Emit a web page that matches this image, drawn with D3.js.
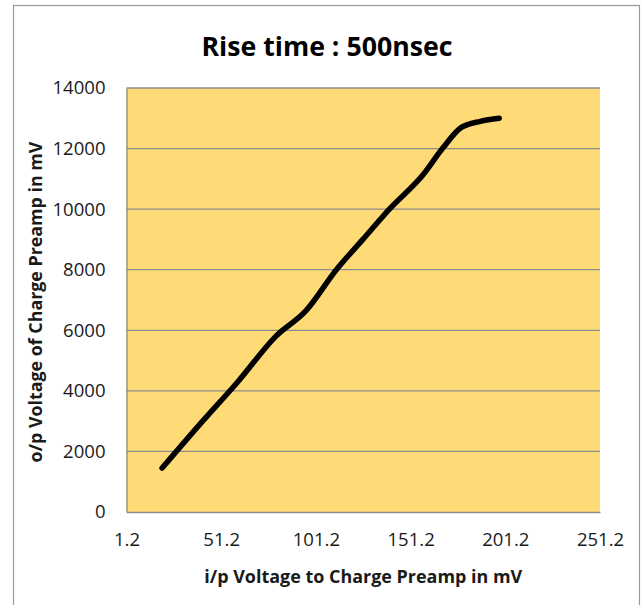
<!DOCTYPE html>
<html>
<head>
<meta charset="utf-8">
<script src="https://cdn.jsdelivr.net/npm/d3@7"></script>
<style>
  body { margin: 0; background: #fff; }
  svg { display: block; }
</style>
</head>
<body>
<div id="chart"></div>
<script>
// values
var inputMv = [20, 40, 60, 80, 96, 112, 126, 140, 158, 168, 178, 188, 198];
var outputMv = [1450, 2900, 4300, 5800, 6650, 8000, 9000, 10000, 11150, 12000, 12700, 12900, 13000];
var xTicks = [1.2, 51.2, 101.2, 151.2, 201.2, 251.2];
var yTicks = [0, 2000, 4000, 6000, 8000, 10000, 12000, 14000];
var chartTitle = "Rise time : 500nsec";
var xTitle = "i/p Voltage to Charge Preamp in mV";
var yTitle = "o/p Voltage of Charge Preamp in mV";

var W = 642, H = 605;
var plotLeft = 126.5, plotRight = 600, plotTop = 88, plotBottom = 512;
var fontFam = "'Open Sans', sans-serif";
var gridColor = "#8c8c8c";

var svg = d3.select("#chart").append("svg")
    .attr("width", W)
    .attr("height", H);

// chart border
svg.append("rect")
    .attr("x", 13.5).attr("y", 5.5)
    .attr("width", 626).attr("height", H + 10)
    .attr("fill", "#fff")
    .attr("stroke", "#9a9a9a")
    .attr("stroke-width", 1.2);

var x = d3.scaleLinear().domain([1.2, 251.2]).range([plotLeft, plotRight]);
var y = d3.scaleLinear().domain([0, 14000]).range([plotBottom, plotTop]);

// plot area
svg.append("rect")
    .attr("x", plotLeft).attr("y", plotTop)
    .attr("width", plotRight - plotLeft).attr("height", plotBottom - plotTop)
    .attr("fill", "#ffdb78");

// gridlines
svg.append("g").selectAll("line")
    .data(yTicks.filter(d => d > 0))
    .enter().append("line")
    .attr("x1", plotLeft).attr("x2", plotRight)
    .attr("y1", d => y(d)).attr("y2", d => y(d))
    .attr("stroke", gridColor)
    .attr("stroke-width", 1.3);

// fit a text to a width
function fitWidth(sel, target) {
    var w = sel.node().getComputedTextLength();
    var fs = parseFloat(sel.attr("font-size"));
    sel.attr("font-size", (fs * target / w).toFixed(2));
}

// tick font sized so "14000" is ~53px wide
var probe = svg.append("text").attr("font-family", fontFam).attr("font-size", 20).text("14000");
fitWidth(probe, 53);
var tickFs = probe.attr("font-size");
probe.remove();

var xAxis = svg.append("g")
    .attr("transform", "translate(0," + plotBottom + ")")
    .call(d3.axisBottom(x).tickValues(xTicks).tickSize(0).tickPadding(21).tickFormat(d3.format(".1f")));

var yAxis = svg.append("g")
    .attr("transform", "translate(" + plotLeft + ",0)")
    .call(d3.axisLeft(y).tickValues(yTicks).tickSize(0).tickPadding(21).tickFormat(d3.format("d")));

[xAxis, yAxis].forEach(function (a) {
    a.select(".domain").attr("stroke", gridColor).attr("stroke-width", 1.3);
    a.selectAll("text")
        .attr("font-family", fontFam)
        .attr("font-size", tickFs)
        .attr("fill", "#1a1a1a");
});

// the curve
var pts = inputMv.map((v, i) => [v, outputMv[i]]);
var line = d3.line()
    .x(d => x(d[0]))
    .y(d => y(d[1]))
    .curve(d3.curveMonotoneX);

svg.append("path")
    .datum(pts)
    .attr("d", line)
    .attr("fill", "none")
    .attr("stroke", "#000")
    .attr("stroke-width", 5.5)
    .attr("stroke-linecap", "round")
    .attr("stroke-linejoin", "round");

// titles
var t = svg.append("text")
    .attr("x", 327).attr("y", 56)
    .attr("text-anchor", "middle")
    .attr("font-family", fontFam)
    .attr("font-weight", "bold")
    .attr("font-size", 26)
    .attr("fill", "#000")
    .text(chartTitle);
fitWidth(t, 251);

var xt = svg.append("text")
    .attr("x", (plotLeft + plotRight) / 2).attr("y", 583)
    .attr("text-anchor", "middle")
    .attr("font-family", fontFam)
    .attr("font-weight", "bold")
    .attr("font-size", 18)
    .attr("fill", "#1a1a1a")
    .text(xTitle);
fitWidth(xt, 318);

var yt = svg.append("text")
    .attr("transform", "translate(42," + ((plotTop + plotBottom) / 2 + 2) + ") rotate(-90)")
    .attr("text-anchor", "middle")
    .attr("font-family", fontFam)
    .attr("font-weight", "bold")
    .attr("font-size", 18)
    .attr("fill", "#1a1a1a")
    .text(yTitle);
fitWidth(yt, 321);
</script>
</body>
</html>
